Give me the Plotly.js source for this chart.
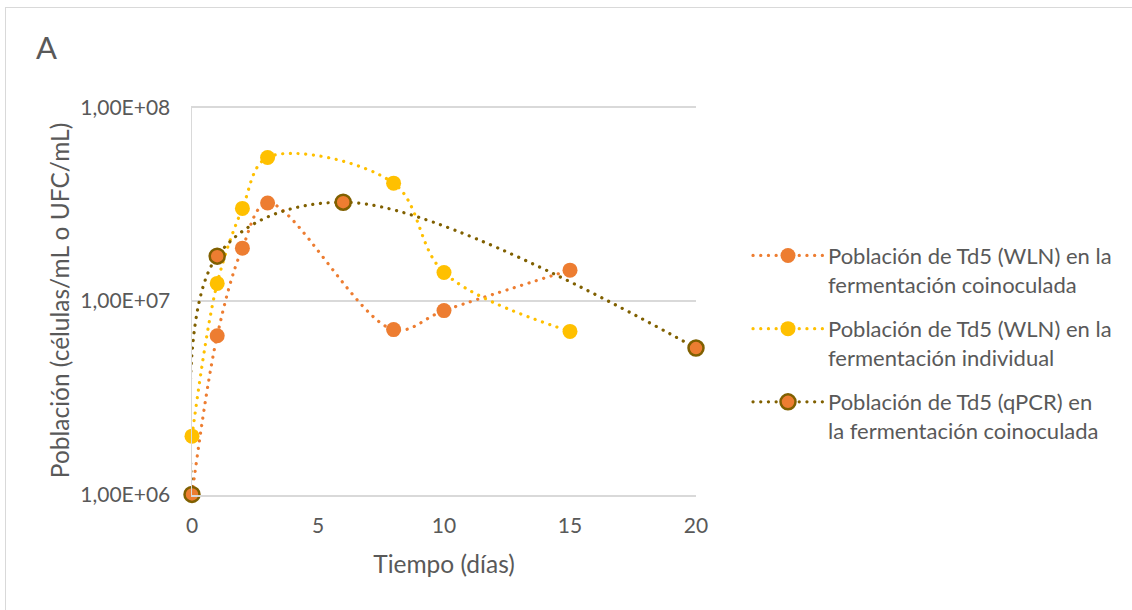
<!DOCTYPE html>
<html>
<head>
<meta charset="utf-8">
<script src="https://cdn.plot.ly/plotly-3.0.1.min.js"></script>
<style>
  html, body { margin: 0; padding: 0; background: #fff; }
  #wrap { position: relative; width: 1132px; height: 610px; overflow: hidden; }
  #chart { width: 1132px; height: 610px; }
  #frame { position: absolute; left: 5px; top: 7px; width: 1200px; height: 700px;
           border: 1.5px solid #D9D9D9; pointer-events: none; box-sizing: border-box; }
  /* round dots for the dotted series lines */
  #chart path.js-line, #chart .legendlines path { stroke-linecap: round; }
</style>
</head>
<body>
<div id="wrap">
  <div id="chart"></div>
  <div id="frame"></div>
</div>
<script>
// Time (days) and Td5 population (cells/mL or CFU/mL)
const diasWlnCoin = [0, 1, 2, 3, 8, 10, 15];
const pobWlnCoin  = [1.0e6, 6.6e6, 1.87e7, 3.2e7, 7.1e6, 8.9e6, 1.44e7];

const diasWlnInd  = [0, 1, 2, 3, 8, 10, 15];
const pobWlnInd   = [2.0e6, 1.23e7, 3.0e7, 5.5e7, 4.05e7, 1.40e7, 6.95e6];

const diasQpcr    = [0, 1, 6, 20];
const pobQpcr     = [1.0e6, 1.70e7, 3.23e7, 5.7e6];

const nombres = [
  'Población de Td5 (WLN) en la<br>fermentación coinoculada',
  'Población de Td5 (WLN) en la<br>fermentación individual',
  'Población de Td5 (qPCR) en<br>la fermentación coinoculada'
];

const yTickVals  = [1e6, 1e7, 1e8];
const yTickText  = ['1,00E+06', '1,00E+07', '1,00E+08'];
const xTickVals  = [0, 5, 10, 15, 20];

const FONT = 'Lato, "Open Sans", sans-serif';
const GREY = '#595959';

const serie = (x, y, name, lineColor, fill, edge, group) => ({
  x: x, y: y, name: name, type: 'scatter', mode: 'lines+markers',
  legendgroup: group,
  line: { color: lineColor, width: 3.2, dash: '0.1px,7.6px', shape: 'spline', smoothing: 1 },
  marker: { size: 15, color: fill, line: { color: edge, width: edge === fill ? 0 : 2.5 } },
  cliponaxis: false
});

const data = [
  serie(diasWlnCoin, pobWlnCoin, nombres[0], '#ED7D31', '#ED7D31', '#ED7D31', 'a'),
  serie(diasWlnInd,  pobWlnInd,  nombres[1], '#FFC000', '#FFC000', '#FFC000', 'b'),
  serie(diasQpcr,    pobQpcr,    nombres[2], '#806000', '#ED7D31', '#806000', 'c')
];

const layout = {
  width: 1132, height: 610,
  margin: { l: 192, r: 436, t: 106, b: 115 },
  paper_bgcolor: '#fff', plot_bgcolor: '#fff',
  font: { family: FONT, color: GREY, size: 21 },
  title: { text: 'A', xref: 'container', yref: 'container', x: 36 / 1132, xanchor: 'left',
           y: 1 - 48 / 610, yanchor: 'middle', font: { size: 31, color: GREY, family: FONT } },
  xaxis: {
    range: [0, 20], tickvals: xTickVals, ticks: '', showgrid: false,
    zeroline: false, showline: true, linecolor: '#D9D9D9', linewidth: 1.5,
    tickfont: { size: 21, color: GREY }, ticklabelstandoff: 11,
    title: { text: 'Tiempo (días)', font: { size: 24.5, color: GREY }, standoff: 20 }
  },
  yaxis: {
    type: 'log', range: [5.997, 8.006], tickvals: yTickVals, ticktext: yTickText, ticks: '',
    showgrid: true, gridcolor: '#D9D9D9', gridwidth: 1.5,
    zeroline: false, showline: true, linecolor: '#D9D9D9', linewidth: 1.5,
    tickfont: { size: 21, color: GREY }, ticklabelstandoff: 16,
    title: { text: 'Población (células/mL o UFC/mL)', font: { size: 24.5, color: GREY }, standoff: 3 }
  },
  showlegend: true,
  legend: {
    x: (748 - 192) / 504, xanchor: 'left',
    y: (494 - 235) / 387, yanchor: 'top',
    traceorder: 'grouped', tracegroupgap: 13, itemwidth: 70, valign: 'top',
    font: { size: 22, color: GREY, family: FONT },
    bgcolor: 'rgba(0,0,0,0)'
  }
};

Plotly.newPlot('chart', data, layout, { displayModeBar: false, staticPlot: true });
</script>
</body>
</html>
